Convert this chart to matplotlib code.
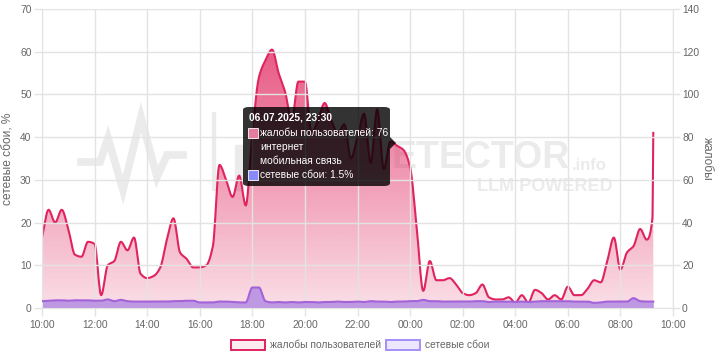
import numpy as np
import pandas as pd
import matplotlib.pyplot as plt
import matplotlib.dates as mdates
from matplotlib.patches import Rectangle, FancyBboxPatch, Polygon
from matplotlib.lines import Line2D

plt.rcParams['font.family'] = ['Liberation Sans', 'DejaVu Sans']

# жалобы пользователей (правая ось), шаг 15 минут с 10:00
complaints = [33, 46, 40, 46, 37, 25, 24, 31, 30, 6, 20, 22, 31, 27, 33, 16,
              14, 15, 19, 32, 42, 26, 23, 19, 19, 20, 29, 67, 60, 52, 62, 48,
              82, 108, 116, 121, 110, 101, 88, 106, 106, 82, 88, 96, 88, 82, 86, 70,
              80, 91, 68, 93, 65, 78, 76, 74, 66, 38, 8, 22, 13, 13, 14, 11,
              7, 6, 7, 11, 5, 4, 4, 5, 2.5, 6, 2.5, 8.5, 7, 4, 6, 4,
              10, 6, 6, 9, 13, 12, 22, 33, 18, 26, 29, 37, 32, 42, 82]
# сетевые сбои, % (левая ось)
failures = [1.6, 1.7, 1.8, 1.8, 1.7, 1.8, 1.8, 1.8, 1.7, 1.7, 2.0, 1.6, 1.9, 1.6, 1.5, 1.5,
            1.5, 1.5, 1.5, 1.5, 1.6, 1.6, 1.7, 1.7, 1.3, 1.3, 1.3, 1.5, 1.5, 1.4, 1.3, 1.3,
            4.8, 4.8, 1.6, 1.3, 1.4, 1.3, 1.4, 1.3, 1.4, 1.4, 1.3, 1.4, 1.4, 1.5, 1.4, 1.4,
            1.5, 1.4, 1.6, 1.5, 1.5, 1.4, 1.5, 1.5, 1.6, 1.6, 1.9, 1.6, 1.6, 1.5, 1.5, 1.5,
            1.5, 1.5, 1.6, 1.6, 1.4, 1.5, 1.5, 1.5, 1.4, 1.5, 1.4, 1.5, 1.6, 1.6, 1.6, 1.6,
            1.6, 1.5, 1.5, 1.5, 1.2, 1.3, 1.5, 1.5, 1.5, 1.5, 2.3, 1.6, 1.5, 1.5, 1.5]
times = list(pd.date_range('2025-07-06 10:00', '2025-07-07 09:00', freq='15min')) + \
        [pd.Timestamp('2025-07-07 09:13'), pd.Timestamp('2025-07-07 09:15')]

x_start = pd.Timestamp('2025-07-06 10:00')
x_end = pd.Timestamp('2025-07-07 10:00')
x_ticks = pd.date_range(x_start, x_end, freq='2h')

PINK = '#e0245e'
PURPLE_LINE = '#a263d9'
PURPLE_FILL = '#bf98e3'
GRID = '#e3e3e3'
TXT = '#666666'
FS = 7.4


def monotone(x, y, n=12):
    # гладкая монотонная кривая между точками (как в Chart.js)
    x = np.asarray(x, float)
    y = np.asarray(y, float)
    h = np.diff(x)
    d = np.diff(y) / h
    m = np.zeros_like(y)
    m[0], m[-1] = d[0], d[-1]
    for i in range(1, len(y) - 1):
        if d[i - 1] * d[i] > 0:
            w1 = 2 * h[i] + h[i - 1]
            w2 = h[i] + 2 * h[i - 1]
            m[i] = (w1 + w2) / (w1 / d[i - 1] + w2 / d[i])
    xs, ys = [], []
    for i in range(len(h)):
        t = np.linspace(0, 1, n, endpoint=False)
        h00 = 2 * t**3 - 3 * t**2 + 1
        h10 = t**3 - 2 * t**2 + t
        h01 = -2 * t**3 + 3 * t**2
        h11 = t**3 - t**2
        xs.append(x[i] + t * h[i])
        ys.append(h00 * y[i] + h10 * h[i] * m[i] + h01 * y[i + 1] + h11 * h[i] * m[i + 1])
    xs.append([x[-1]])
    ys.append([y[-1]])
    return np.concatenate(xs), np.concatenate(ys)


def fp(x, y):
    # пиксели картинки -> доли фигуры
    return x / 720, 1 - y / 360


fig = plt.figure(figsize=(7.2, 3.6), dpi=100)
fig.patch.set_facecolor('white')
ax = fig.add_axes([42 / 720, 1 - 308 / 360, 631 / 720, 299 / 360])
ax2 = ax.twinx()
ax.set_zorder(ax2.get_zorder() + 1)
ax.patch.set_visible(False)
ax2.patch.set_visible(False)

xn = mdates.date2num(times)
px, py = monotone(xn, complaints)
fx, fy = monotone(xn, failures)

# водяной знак (левая часть надписи скрыта подсказкой)
wm = '#ebebeb'
pulse = [(81, 162), (100, 162), (108, 138), (123, 190), (141, 117), (157, 177), (167, 155), (183, 155)]
fig.add_artist(Line2D([fp(*p)[0] for p in pulse], [fp(*p)[1] for p in pulse],
                      color=wm, lw=5.5, solid_joinstyle='miter', zorder=-5))
fig.add_artist(Rectangle(fp(212, 190), 3 / 720, 78 / 360, color=wm, zorder=-5))
fig.add_artist(Rectangle(fp(235, 190), 8 / 720, 45 / 360, color=wm, zorder=-5))
fig.text(*fp(570, 158), 'ETECTOR', fontsize=27, fontweight='bold', color=wm,
         va='center', ha='right', zorder=-5)
fig.text(*fp(572, 166), '.info', fontsize=12, fontweight='bold', color=wm,
         va='center', ha='left', zorder=-5)
fig.text(*fp(613, 186), 'LLM POWERED', fontsize=13, fontweight='bold', color=wm,
         va='center', ha='right', zorder=-5)

# жалобы: градиентная заливка
ax2.set_ylim(0, 140)
ax2.set_xlim(mdates.date2num(x_start), mdates.date2num(x_end))
poly, = ax2.fill(np.r_[px, px[-1], px[0]], np.r_[py, 0, 0], facecolor='none', edgecolor='none')
grad = np.linspace(0.85, 0.15, 256).reshape(-1, 1)
rgba = np.zeros((256, 1, 4))
rgba[..., 0], rgba[..., 1], rgba[..., 2] = 224 / 255, 36 / 255, 94 / 255
rgba[..., 3] = grad
img = ax2.imshow(rgba, aspect='auto', extent=[mdates.date2num(x_start), mdates.date2num(x_end), 0, 140],
                 origin='upper', zorder=1)
img.set_clip_path(poly)
ax2.plot(px, py, color=PINK, lw=1.5, zorder=3)

# сетевые сбои
ax.set_ylim(0, 70)
ax.set_xlim(mdates.date2num(x_start), mdates.date2num(x_end))
ax.fill_between(fx, 0, fy, color=PURPLE_FILL, lw=0, zorder=2)
ax.plot(fx, fy, color=PURPLE_LINE, lw=1.5, zorder=3)

# оси и сетка
ax.set_yticks(range(0, 71, 10))
ax2.set_yticks(range(0, 141, 20))
ax.set_xticks(mdates.date2num(x_ticks))
ax.xaxis.set_major_formatter(mdates.DateFormatter('%H:%M'))
ax.grid(True, color=GRID, lw=1, zorder=0)
for a in (ax, ax2):
    for s in a.spines.values():
        s.set_visible(False)
    a.tick_params(colors=GRID, labelcolor=TXT, labelsize=FS, length=6, width=1, pad=1.5)
ax2.tick_params(length=5)
ax.tick_params(axis='x', pad=2.5)
for a, side in ((ax, 'bottom'), (ax, 'left'), (ax2, 'right')):
    a.spines[side].set_visible(True)
    a.spines[side].set_color(GRID)
ax.set_ylabel('сетевые сбои, %', color=TXT, fontsize=8.6, labelpad=4)
ax2.set_ylabel('жалобы', color=TXT, fontsize=8.6, rotation=-90, labelpad=10)

# легенда
fig.add_artist(Rectangle(fp(231, 350), 34 / 720, 10 / 360, facecolor='#fcebf1', edgecolor=PINK, lw=1.4))
fig.text(*fp(270, 345), 'жалобы пользователей', fontsize=FS, color=TXT, va='center')
fig.add_artist(Rectangle(fp(386, 350), 34 / 720, 10 / 360, facecolor='#ece6ff', edgecolor='#a590f7', lw=1.4))
fig.text(*fp(425, 345), 'сетевые сбои', fontsize=FS, color=TXT, va='center')

# подсказка
tip = (0, 0, 0, 0.8)
fig.add_artist(FancyBboxPatch(fp(243, 186), 147 / 720, 79 / 360,
                              boxstyle='round,pad=0,rounding_size=0.008',
                              facecolor=tip, edgecolor='none', zorder=10))
fig.add_artist(Polygon([fp(390, 137), fp(390, 149), fp(396, 143)], closed=True,
                       facecolor=tip, edgecolor='none', zorder=10))
fig.text(*fp(249, 118), '06.07.2025, 23:30', fontsize=FS, fontweight='bold', color='white',
         va='center', zorder=11)
fig.add_artist(Rectangle(fp(248, 138), 10 / 720, 10 / 360, facecolor='#e57ba0',
                         edgecolor='white', lw=0.6, zorder=11))
fig.text(*fp(260, 133), 'жалобы пользователей: 76', fontsize=FS, color='white', va='center', zorder=11)
fig.text(*fp(260, 147), 'интернет', fontsize=FS, color='white', va='center', zorder=11)
fig.text(*fp(260, 161), 'мобильная связь', fontsize=FS, color='white', va='center', zorder=11)
fig.add_artist(Rectangle(fp(248, 180), 10 / 720, 10 / 360, facecolor='#8a8aff',
                         edgecolor='white', lw=0.6, zorder=11))
fig.text(*fp(260, 175), 'сетевые сбои: 1.5%', fontsize=FS, color='white', va='center', zorder=11)

fig.savefig('out.png', dpi=100)
